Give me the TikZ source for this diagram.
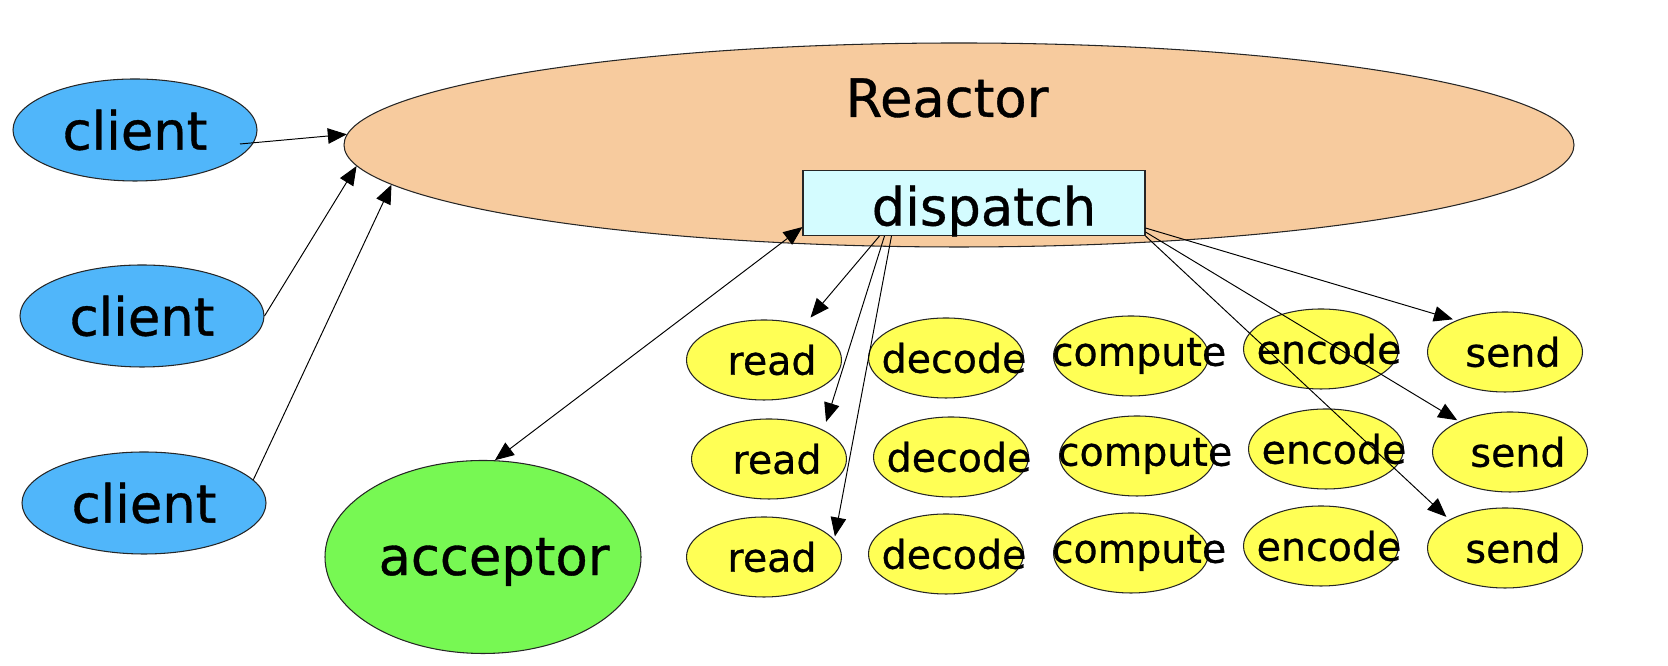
\documentclass[tikz,border=0pt]{standalone}
\usepackage{fontspec}
\setmainfont{DejaVu Sans}[FakeBold=0.7]
\usetikzlibrary{arrows.meta,shapes.geometric}

\definecolor{clientblue}{RGB}{80,182,250}
\definecolor{reactorpeach}{RGB}{247,203,158}
\definecolor{dispatchcyan}{RGB}{212,252,255}
\definecolor{acceptgreen}{RGB}{119,248,83}
\definecolor{jobyellow}{RGB}{255,255,85}

\tikzset{
  shape line/.style={draw=black!85, line width=0.6pt},
  bigtext/.style={font=\fontsize{30}{36}\selectfont},
  jobtext/.style={font=\fontsize{22.5}{27}\selectfont, xshift=0.16cm},
  client/.style={ellipse, shape line, fill=clientblue, minimum width=4.88cm,
    minimum height=2.04cm, inner sep=0pt, bigtext},
  job/.style={ellipse, shape line, fill=jobyellow, minimum width=3.1cm,
    minimum height=1.6cm, inner sep=0pt},
  link/.style={->, line width=0.55pt, black},
}

\begin{document}
\begin{tikzpicture}[>={Triangle[length=3.8mm, width=3.1mm]}]
\useasboundingbox (0,0) rectangle (33.36,13.32);

% reactor with its dispatcher
\node[ellipse, shape line, fill=reactorpeach, minimum width=24.6cm,
  minimum height=4.08cm] (reactor) at (19.18,10.42) {};
\node[bigtext] (reactortitle) at (18.94,11.36) {Reactor};
\node[shape line, fill=dispatchcyan, minimum width=6.84cm, minimum height=1.3cm,
  inner sep=0pt, label={[bigtext, xshift=0.2cm, yshift=-0.16cm]center:dispatch}]
  (disp) at (19.48,9.26) {};

% clients
\node[client] (c1) at (2.70,10.72) {client};
\node[client] (c2) at (2.84,7.00) {client};
\node[client] (c3) at (2.88,3.26) {client};

% acceptor
\node[ellipse, shape line, fill=acceptgreen, minimum width=6.32cm,
  minimum height=3.86cm, inner sep=0pt,
  label={[bigtext, xshift=0.22cm, yshift=-0.1cm]center:acceptor}]
  (acc) at (9.66,2.18) {};

% handler steps, row 1
\node[job, label={[jobtext]center:read}]    (rd1) at (15.28,6.12) {};
\node[job, label={[jobtext]center:decode}]  (dc1) at (18.92,6.16) {};
\node[job, label={[jobtext]center:compute}] (cp1) at (22.62,6.20) {};
\node[job, label={[jobtext]center:encode}]  (ec1) at (26.42,6.34) {};
\node[job, label={[jobtext]center:send}]    (sd1) at (30.10,6.28) {};

% row 2
\node[job, label={[jobtext]center:read}]    (rd2) at (15.38,4.14) {};
\node[job, label={[jobtext]center:decode}]  (dc2) at (19.02,4.18) {};
\node[job, label={[jobtext]center:compute}] (cp2) at (22.74,4.20) {};
\node[job, label={[jobtext]center:encode}]  (ec2) at (26.52,4.34) {};
\node[job, label={[jobtext]center:send}]    (sd2) at (30.20,4.28) {};

% row 3
\node[job, label={[jobtext]center:read}]    (rd3) at (15.28,2.18) {};
\node[job, label={[jobtext]center:decode}]  (dc3) at (18.92,2.24) {};
\node[job, label={[jobtext]center:compute}] (cp3) at (22.62,2.26) {};
\node[job, label={[jobtext]center:encode}]  (ec3) at (26.42,2.40) {};
\node[job, label={[jobtext]center:send}]    (sd3) at (30.10,2.36) {};

% clients to reactor
\draw[link] ([xshift=2.1cm, yshift=-0.28cm]c1.center) -- (reactor.179);
\draw[link] (c2.east) -- (reactor.182);
\draw[link] (c3.12) -- (reactor.184);

% acceptor and dispatch
\draw[link, <->] (acc.83) -- ([yshift=0.18cm]disp.south west);

% dispatch to read
\draw[link, shorten >=0.2cm]  ([xshift=1.54cm]disp.south west) -- (rd1.41);
\draw[link, shorten >=0.17cm] ([xshift=1.64cm]disp.south west) -- (rd2.28);
\draw[link, shorten >=0.06cm] ([xshift=1.78cm]disp.south west) -- (rd3.14);

% dispatch to send
\draw[link, shorten >=0.07cm] ([yshift=0.16cm]disp.south east) -- (sd1.147);
\draw[link, shorten >=0.04cm] ([yshift=0.08cm]disp.south east) -- (sd2.149);
\draw[link, shorten >=0.08cm] (disp.south east) -- (sd3.153);

\end{tikzpicture}
\end{document}
